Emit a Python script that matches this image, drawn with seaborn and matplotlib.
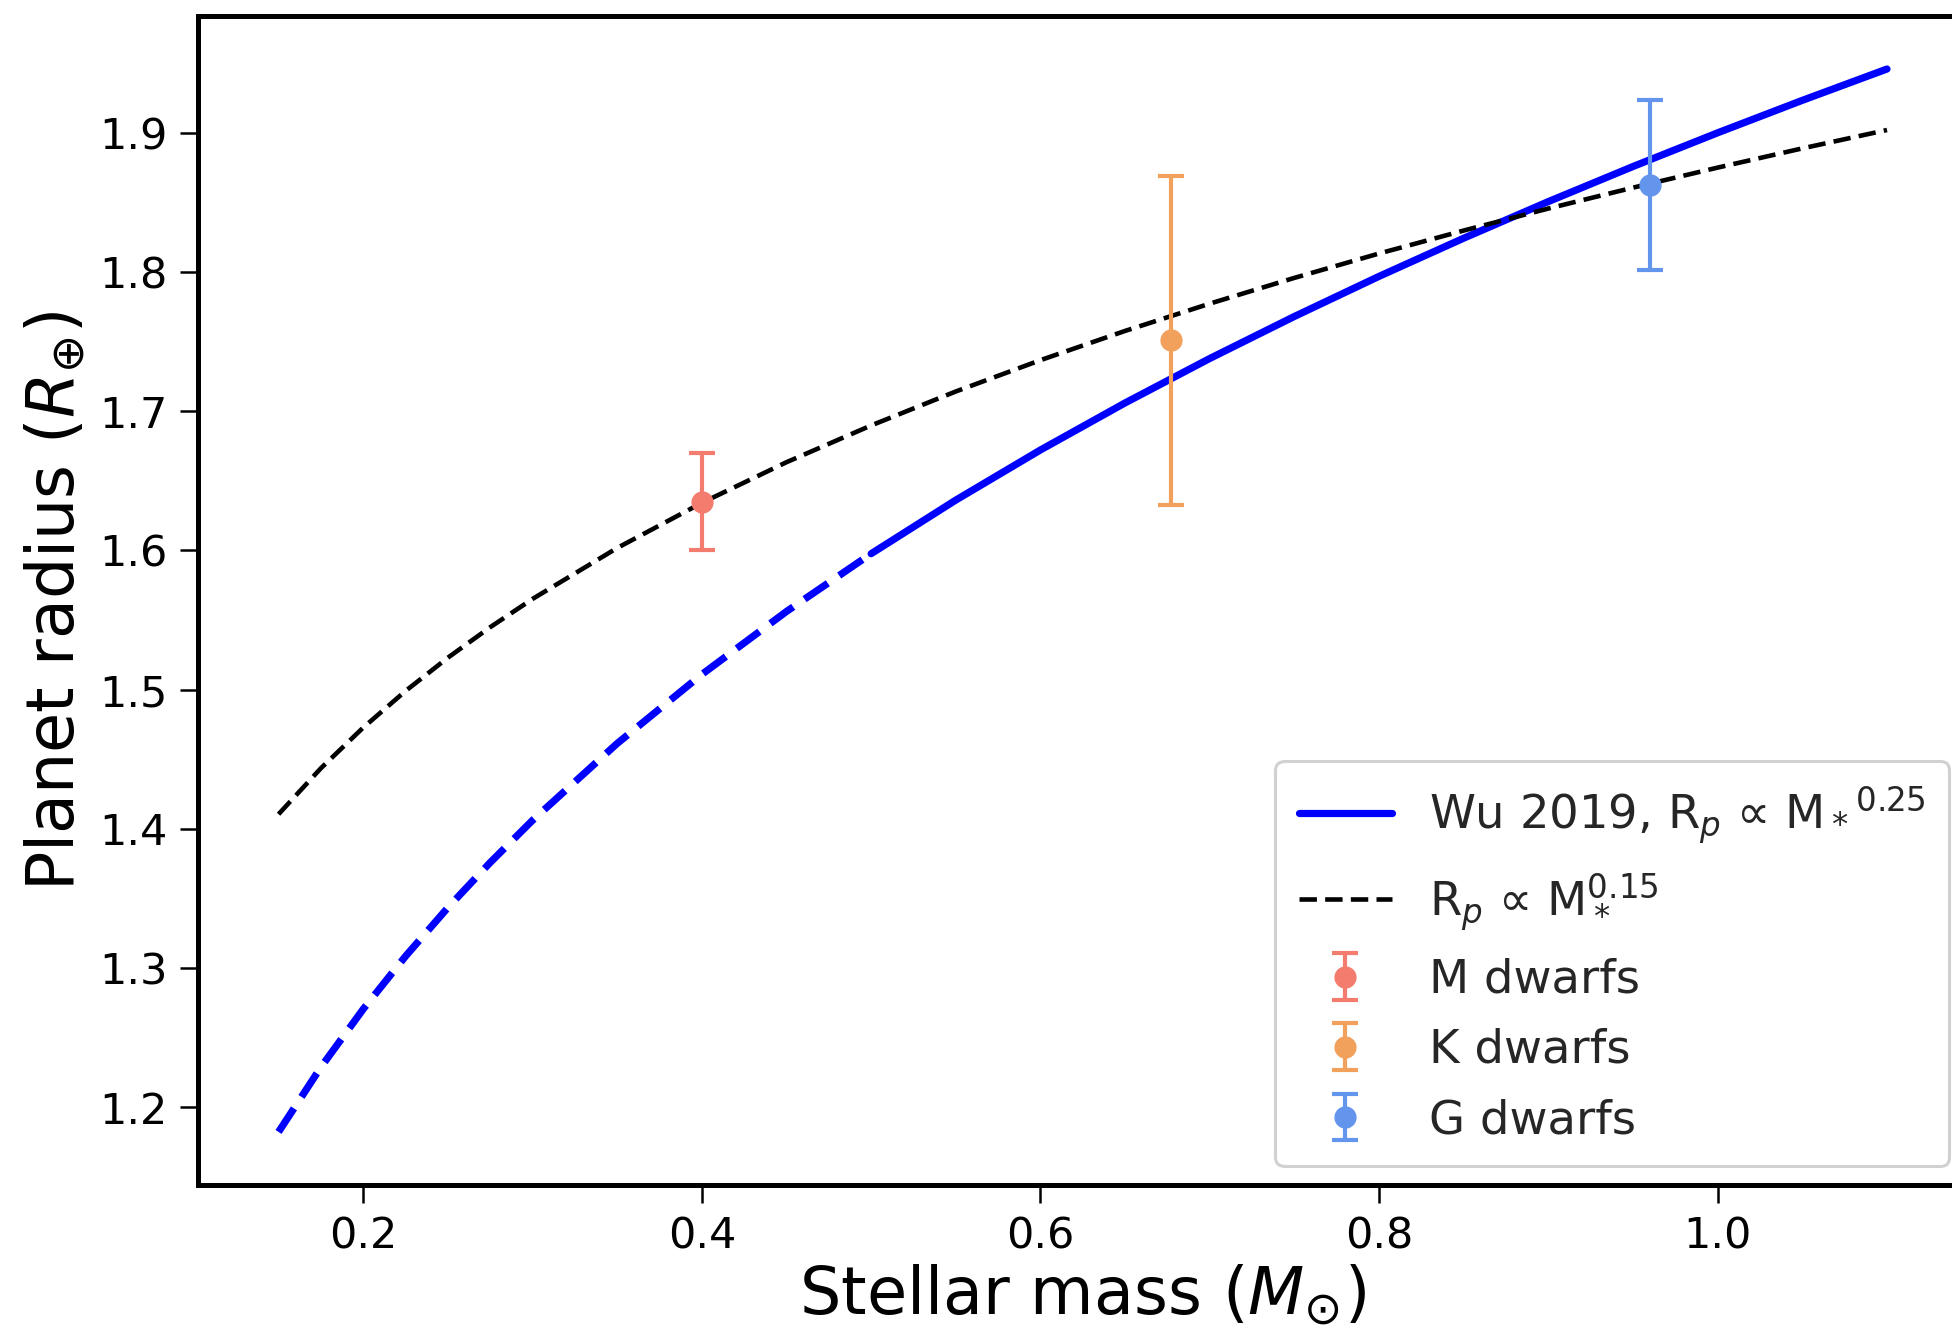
import matplotlib
matplotlib.use("Agg")
import matplotlib.pyplot as plt
import seaborn as sns
import numpy as np
import pandas as pd

# ---- data ----
mass_grid = [0.15, 0.175, 0.2, 0.225, 0.25, 0.275, 0.3, 0.35, 0.4, 0.45, 0.5,
             0.55, 0.6, 0.65, 0.7, 0.75, 0.8, 0.85, 0.9, 0.95, 1.0, 1.05, 1.1]
wu2019_radius = [1.1824, 1.2289, 1.2706, 1.3086, 1.3435, 1.3759, 1.4062, 1.4614,
                 1.5110, 1.5562, 1.5977, 1.6362, 1.6722, 1.7060, 1.7379, 1.7681,
                 1.7969, 1.8243, 1.8506, 1.8758, 1.9000, 1.9233, 1.9458]
shallow_radius = [1.4106, 1.4436, 1.4728, 1.4991, 1.5230, 1.5449, 1.5652, 1.6018,
                  1.6342, 1.6634, 1.6898, 1.7142, 1.7367, 1.7577, 1.7773, 1.7958,
                  1.8133, 1.8298, 1.8456, 1.8606, 1.8750, 1.8888, 1.9020]
split_mass = 0.5  # blue curve dashed below, solid above

groups = ["M dwarfs", "K dwarfs", "G dwarfs"]
group_mass = [0.40, 0.677, 0.96]
group_radius = [1.635, 1.751, 1.8625]
group_err = [0.035, 0.118, 0.061]
group_colors = ["#F47C6E", "#F2A15C", "#6495ED"]

label_wu = "Wu 2019, R$_p$ ∝ M$_*$$^{0.25}$"
label_shallow = "R$_p$ ∝ M$_*^{0.15}$"

# ---- styling ----
sns.set_theme(style="ticks")
plt.rcParams["font.family"] = ["DejaVu Sans"]
plt.rcParams["mathtext.fontset"] = "dejavusans"

fig = plt.figure(figsize=(19.52, 13.31), dpi=100)
ax = fig.add_axes([0.1015, 0.1097, 0.9064, 0.8783])

df = pd.DataFrame({"mass": mass_grid, "wu": wu2019_radius, "shallow": shallow_radius})
lo = df[df["mass"] <= split_mass]
hi = df[df["mass"] >= split_mass]

sns.lineplot(data=hi, x="mass", y="wu", ax=ax, color="#0000FF", lw=5.2,
             label=label_wu, sort=True)
sns.lineplot(data=lo, x="mass", y="wu", ax=ax, color="#0000FF", lw=5.2,
             linestyle=(0, (3.9, 1.9)), sort=True, legend=False)
sns.lineplot(data=df, x="mass", y="shallow", ax=ax, color="black", lw=3.3,
             linestyle=(0, (3.8, 1.8)), label=label_shallow, sort=True)

for g, m, r, e, c in zip(groups, group_mass, group_radius, group_err, group_colors):
    ax.errorbar(m, r, yerr=e, fmt="o", color=c, ms=15, elinewidth=3.0,
                capsize=9.5, capthick=3.0, label=g)

ax.set_xlim(0.1025, 1.1475)
ax.set_ylim(1.1443, 1.9839)
ax.set_xticks([0.2, 0.4, 0.6, 0.8, 1.0])
ax.set_yticks([1.2, 1.3, 1.4, 1.5, 1.6, 1.7, 1.8, 1.9])
ax.set_xticklabels(["0.2", "0.4", "0.6", "0.8", "1.0"])
ax.set_yticklabels(["1.2", "1.3", "1.4", "1.5", "1.6", "1.7", "1.8", "1.9"])

ax.set_xlabel(r"Stellar mass ($M_{\odot}$)", fontsize=47, color="black", labelpad=4)
ax.set_ylabel(r"Planet radius ($R_{\oplus}$)", fontsize=47, color="black", labelpad=8)
ax.tick_params(axis="both", labelsize=31, length=13, width=1.8, pad=9,
               colors="black", direction="out")
for s in ax.spines.values():
    s.set_linewidth(3.6)
    s.set_color("black")

handles, labels = ax.get_legend_handles_labels()
leg = ax.legend(handles, labels, loc="lower right", fontsize=33.5, frameon=True,
                fancybox=True, framealpha=0.9, edgecolor="#CCCCCC",
                handlelength=2.0, borderpad=0.5, labelspacing=0.54,
                handletextpad=0.8, borderaxespad=0.4)
leg.get_frame().set_linewidth(2.2)

fig.savefig("out.png", dpi=100)
